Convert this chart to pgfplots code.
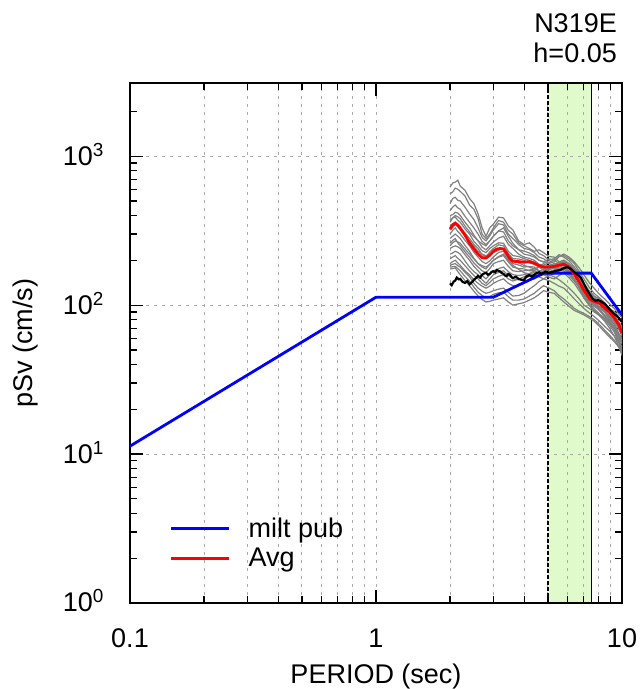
\documentclass[border=0pt]{standalone}
\usepackage{pgfplots}
\usepackage{pgfplotstable}
\pgfplotsset{compat=1.18}
\usepackage{fontspec}
\setmainfont{Liberation Sans}

\definecolor{bandgreen}{RGB}{224,250,204}
\definecolor{specgray}{RGB}{128,128,128}
\definecolor{gridgray}{RGB}{170,170,170}

% pSv (cm/s) of the individual records, one column per record
\pgfplotstableread{
T    g1  g2  g3  g4  g5  g6  g7  g8  g9  g10 g11 g12 g13 g14 g15 g16 g17 g18 g19 g20
2.0  620 560 480 430 400 370 340 300 280 260 240 220 205 190 185 180 360 250 175 320
2.05 660 575 520 455 405 385 352 318 290 272 246 224 210 196 188 181 385 262 176 332
2.1  670 610 530 470 420 390 360 330 300 280 250 230 215 200 190 182 400 270 178 350
2.15 690 600 505 450 415 372 340 312 290 262 246 226 206 192 184 176 392 266 168 334
2.2  630 580 500 440 400 360 330 300 280 250 240 220 200 185 180 170 380 260 160 320
2.3  590 540 455 395 360 325 305 272 252 228 218 198 184 170 166 156 340 238 146 292
2.4  520 470 410 360 330 300 280 250 230 210 200 180 170 160 155 145 310 220 135 270
2.5  480 440 375 330 295 268 256 226 206 192 182 168 158 148 140 132 288 204 124 248
2.6  410 380 330 300 270 250 240 210 190 180 170 160 150 140 130 122 270 190 115 230
2.7  330 300 285 268 245 232 218 196 184 170 158 148 140 134 124 116 258 180 109 220
2.8  290 280 270 255 235 225 210 190 180 165 150 140 135 130 120 112 250 175 105 215
2.9  330 300 292 270 250 240 228 198 188 176 160 150 142 134 122 114 270 188 106 220
3.0  350 330 320 290 265 250 240 210 200 190 170 160 150 140 125 118 290 200 108 225
3.15 390 370 352 315 282 262 254 226 210 196 176 166 156 146 128 121 315 212 110 234
3.3  385 360 345 310 290 260 250 230 215 200 180 170 160 150 130 122 330 220 112 240
3.45 340 318 300 270 256 230 222 205 195 182 168 158 150 140 122 114 290 200 105 218
3.6  320 300 280 250 240 215 205 190 180 170 160 150 145 135 115 108 260 185 100 200
3.8  270 262 255 236 220 212 204 186 176 168 158 148 150 136 116 108 236 174 102 192
4.0  255 250 240 230 210 205 200 180 175 170 160 150 155 140 120 110 220 165 104 185
4.2  262 240 236 224 206 200 192 182 170 172 163 156 162 146 128 115 216 162 108 180
4.4  245 230 225 215 200 195 188 180 170 175 165 160 170 150 135 120 210 160 112 175
4.6  222 235 210 200 188 180 180 170 164 180 166 168 182 156 144 128 200 155 118 170
4.8  215 225 205 195 185 172 178 165 160 185 170 175 190 160 150 135 195 150 125 165
5.05 200 212 192 204 172 182 168 158 166 194 176 184 182 154 146 130 190 158 122 160
5.3  205 210 195 200 178 185 172 162 170 200 180 190 175 150 140 125 185 165 120 155
5.55 218 195 212 190 186 176 190 170 180 212 190 188 172 158 134 116 194 174 112 148
5.8  210 200 215 195 190 180 200 175 185 220 195 185 170 165 130 110 200 180 105 140
6.1  198 186 205 182 175 166 188 164 174 210 182 168 158 152 120 102 190 166 98  130
6.4  180 170 190 168 160 150 172 150 160 195 165 150 145 140 110 95  175 150 92  120
6.7  162 148 168 146 140 132 152 134 142 178 142 132 132 125 102 91  155 130 89  110
7.0  140 132 150 128 125 118 135 120 125 160 122 115 120 112 95  88  135 112 86  100
7.35 125 118 132 112 108 106 124 108 112 142 108 103 110 100 89  84  122 100 82  95
7.7  115 110 120 104 100 98  115 102 105 130 100 95  100 92  84  80  112 92  78  90
8.1  110 104 112 98  96  94  108 98  96  118 92  87  92  85  78  74  106 87  72  85
8.5  100 96  104 92  90  86  102 92  90  110 85  80  84  78  72  68  100 82  66  80
8.9  90  86  95  84  82  78  95  86  80  102 78  73  76  70  67  63  92  76  61  75
9.3  86  82  90  78  76  72  90  80  74  95  70  66  68  62  62  58  86  70  57  70
9.65 78  74  84  70  66  62  84  72  64  88  60  57  58  54  57  53  78  64  53  65
10   72  68  76  62  58  55  78  64  56  82  52  50  48  46  52  48  70  58  50  60
}\records

\begin{document}
\begin{tikzpicture}
\begin{axis}[
  set layers,
  scale only axis, width=492pt, height=520pt,
  xmode=log, ymode=log,
  xmin=0.1, xmax=10, ymin=1, ymax=3100,
  xtick={0.1,1,10}, xticklabels={0.1,1,10},
  minor xtick={0.2,0.3,0.4,0.5,0.6,0.7,0.8,0.9,2,3,4,5,6,7,8,9},
  ytick={1,10,100,1000},
  yticklabels={10\textsuperscript{0},10\textsuperscript{1},10\textsuperscript{2},10\textsuperscript{3}},
  minor ytick={2,3,4,5,6,7,8,9,20,30,40,50,60,70,80,90,200,300,400,500,600,700,800,900,2000},
  xmajorgrids, xminorgrids, ymajorgrids,
  major grid style={gridgray, dash pattern=on 3pt off 5pt, line width=1pt},
  minor grid style={gridgray, dash pattern=on 3pt off 5pt, line width=1pt},
  tick style={black, line width=1.2pt},
  major tick length=13pt, minor tick length=7pt,
  axis line style={line width=1.6pt},
  tick label style={font=\fontsize{27}{30}\selectfont, inner sep=0pt},
  xticklabel style={anchor=base, yshift=-45pt},
  yticklabel style={anchor=base east, xshift=-26pt, yshift=-9pt},
  xlabel={PERIOD (sec)},
  ylabel={pSv (cm/s)},
  label style={font=\fontsize{27}{30}\selectfont, inner sep=0pt},
  xlabel style={at={(axis description cs:0.5,0)}, anchor=base, yshift=-80pt},
  ylabel style={at={(axis description cs:-0.213,0.5)}, anchor=center},
  legend style={draw=none, fill=none, at={(axis description cs:0.081,0.115)},
    anchor=west, inner sep=0pt, outer sep=0pt,
    /tikz/row sep=9pt, /tikz/column sep=18pt,
    font=\fontsize{27}{30}\selectfont,
    nodes={inner sep=0pt}},
  legend cell align=left,
  legend image code/.code={\draw[#1] (0pt,0pt) -- (58pt,0pt);},
  gray spec/.style={specgray, line width=1.2pt, forget plot},
]

% target period band 5.0 - 7.5 s
\addplot[fill=bandgreen, draw=none, on layer=axis background, forget plot]
  coordinates {(5,1) (7.5,1) (7.5,3100) (5,3100)} \closedcycle;
\addplot[black, line width=1.3pt, dash pattern=on 4pt off 2pt, forget plot]
  coordinates {(5,1) (5,3100)};
\addplot[black, line width=1.4pt, forget plot]
  coordinates {(7.5,1) (7.5,3100)};

% individual records
\pgfplotsinvokeforeach{1,...,20}{
  \addplot[gray spec] table[x=T, y=g#1] {\records};
}

% design spectrum
\addplot[blue, line width=2.8pt] coordinates {(0.1,11.3) (1,113) (3,113) (4.8,164) (7.5,164) (10,86)};
\addlegendentry{milt pub}

% average of the records
\addplot[red, line width=2.8pt] coordinates {(2.0,324) (2.05,345) (2.1,355) (2.15,345) (2.2,329) (2.3,295) (2.4,261) (2.5,238) (2.6,220) (2.7,208) (2.8,207) (2.9,216) (3.0,230) (3.1,238) (3.2,240) (3.3,238) (3.4,222) (3.5,205) (3.6,197) (3.8,196) (4.0,194) (4.2,196) (4.4,191) (4.6,184) (4.8,180) (5.0,180) (5.3,182) (5.6,186) (5.8,188) (6.1,180) (6.4,161) (6.7,143) (7.0,126) (7.4,110) (7.7,106) (8.1,103) (8.5,95.5) (8.9,90) (9.3,82) (9.7,74) (10,65)};
\addlegendentry{Avg}

% matched record
\addplot[black, line width=2.2pt, forget plot] coordinates {(2.0,140) (2.03,136) (2.07,144) (2.1,146) (2.13,153) (2.17,149) (2.2,150) (2.25,143) (2.3,141) (2.35,145) (2.4,138) (2.45,142) (2.5,148) (2.55,152) (2.6,157) (2.65,153) (2.7,160) (2.75,163) (2.8,165) (2.85,160) (2.9,162) (2.95,167) (3.0,169) (3.05,166) (3.1,172) (3.15,170) (3.2,168) (3.25,164) (3.3,162) (3.35,158) (3.4,157) (3.45,162) (3.5,160) (3.55,155) (3.6,152) (3.7,155) (3.8,150) (3.9,148) (4.0,147) (4.05,153) (4.1,156) (4.2,159) (4.3,155) (4.4,160) (4.5,164) (4.6,166) (4.7,162) (4.8,165) (4.9,168) (5.0,164) (5.2,167) (5.4,170) (5.6,172) (5.8,177) (6.0,180) (6.2,175) (6.4,166) (6.6,160) (6.8,153) (7.0,139) (7.2,127) (7.4,118) (7.6,110) (7.8,107) (8.0,108) (8.2,106) (8.5,102) (8.8,96) (9.0,92) (9.3,87) (9.5,85) (9.7,82) (10,77)};

\end{axis}
\node[anchor=base east, font=\fontsize{27}{30}\selectfont, inner sep=0pt]
  at ([xshift=-5pt,yshift=50pt]current axis.north east) {N319E};
\node[anchor=base east, font=\fontsize{27}{30}\selectfont, inner sep=0pt]
  at ([xshift=-5pt,yshift=20pt]current axis.north east) {h=0.05};
\pgfresetboundingbox
\path[use as bounding box] ([xshift=-130pt,yshift=-86pt]current axis.south west)
  rectangle ([xshift=18pt,yshift=83pt]current axis.north east);
\end{tikzpicture}
\end{document}
